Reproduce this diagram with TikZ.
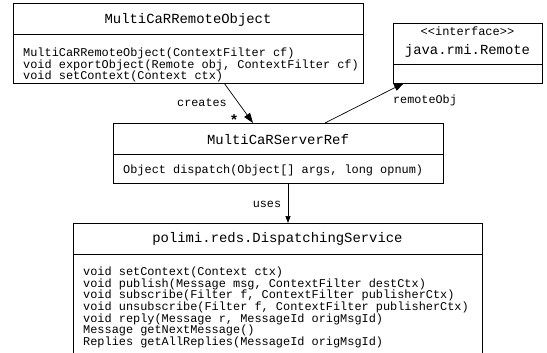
\documentclass[tikz,border=0pt]{standalone}
\usepackage{fontspec}
\setmainfont{Liberation Mono}[Ligatures=TeXOff]
\usetikzlibrary{arrows.meta}
\begin{document}
\begin{tikzpicture}[x=1pt,y=-1pt,
  umlbox/.style={draw=black, line width=0.8pt, anchor=north west, inner sep=0pt},
  title/.style={font=\fontsize{13.9}{14}\selectfont, inner sep=0pt, anchor=center},
  stereo/.style={font=\fontsize{12}{12}\selectfont, inner sep=0pt, anchor=center},
  methods/.style={font=\fontsize{11.9}{11.7}\selectfont, align=left, inner sep=0pt, anchor=north west},
  lbl/.style={font=\fontsize{11.8}{12}\selectfont, inner sep=0pt, anchor=center},
  conn/.style={line width=0.7pt, -{Triangle[length=10pt,width=7pt]}},
  connsmall/.style={line width=0.7pt, -{Triangle[length=7pt,width=5pt]}}
]
\useasboundingbox (0,0) rectangle (547,353);
\clip (0,0) rectangle (547,353);
\fill[white] (0,0) rectangle (547,353);

% MultiCaRRemoteObject
\node[umlbox, minimum width=350pt, minimum height=80pt] (ro) at (13,3) {};
\draw[line width=0.8pt] (13,34) -- (363,34);
\node[title] (rot) at (188,20) {MultiCaRRemoteObject};
\node[methods] (rom) at (23,47.5) {MultiCaRRemoteObject(ContextFilter cf)\\void exportObject(Remote obj, ContextFilter cf)\\void setContext(Context ctx)};

% java.rmi.Remote
\node[umlbox, minimum width=149pt, minimum height=60pt] (jr) at (393,23) {};
\draw[line width=0.8pt] (393,64) -- (542,64);
\node[stereo] (jrs) at (467.5,31) {<<interface>>};
\node[title] (jrt) at (467.5,51) {java.rmi.Remote};

% MultiCaRServerRef
\node[umlbox, minimum width=330pt, minimum height=60pt] (sr) at (113,123) {};
\draw[line width=0.8pt] (113,154) -- (443,154);
\node[title] (srt) at (278,140) {MultiCaRServerRef};
\node[methods] (srm) at (123,165) {Object dispatch(Object[] args, long opnum)};

% DispatchingService
\node[umlbox, minimum width=409pt, minimum height=150pt] (ds) at (73,223) {};
\draw[line width=0.8pt] (73,254) -- (482,254);
\node[title] (dst) at (277.5,239) {polimi.reds.DispatchingService};
\node[methods] (dsm) at (83,266.5) {void setContext(Context ctx)\\void publish(Message msg, ContextFilter destCtx)\\void subscribe(Filter f, ContextFilter publisherCtx)\\void unsubscribe(Filter f, ContextFilter publisherCtx)\\void reply(Message r, MessageId origMsgId)\\Message getNextMessage()\\Replies getAllReplies(MessageId origMsgId)};

% connectors
\coordinate (c1) at (224,83);
\coordinate (c2) at (253,123);
\draw[conn] (c1) -- (c2);
\node[lbl] (creates) at (202,103) {creates};
\node[lbl, font=\fontsize{15}{15}\bfseries] (star) at (234,120) {*};

\coordinate (r1) at (325,123);
\coordinate (r2) at (404,83);
\draw[conn] (r1) -- (r2);
\node[lbl] (robj) at (425,100) {remoteObj};

\coordinate (u1) at (288,183);
\coordinate (u2) at (288,223);
\draw[connsmall] (u1) -- (u2);
\node[lbl] (uses) at (267,204) {uses};
\end{tikzpicture}
\end{document}
